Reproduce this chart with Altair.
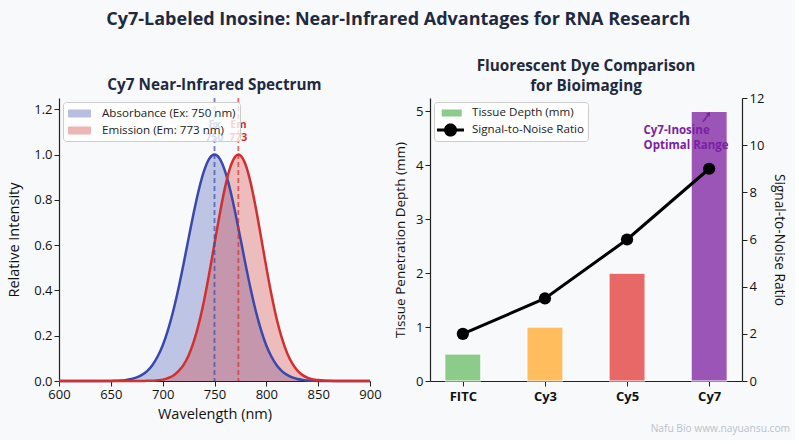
import altair as alt
import pandas as pd

FONT = "Open Sans"
BG = "#f8f9fb"
INK = "#1e2a3f"

# ---- Spectrum data (relative intensity per wavelength, nm) ----
wavelengths = [600, 605, 610, 615, 620, 625, 630, 635, 640, 645, 650,
               655, 660, 665, 670, 675, 680, 685, 690, 695, 700, 705, 710,
               715, 720, 725, 730, 735, 740, 745, 750, 755, 760, 765, 770,
               773, 775, 780, 785, 790, 795, 800, 805, 810, 815, 820, 825,
               830, 835, 840, 845, 850, 855, 860, 865, 870, 875, 880, 885,
               890, 895, 900]
absorbance = [0, 0, 0, 0, 0, 0, 0, 0, 0, 0, 0,
              0.001, 0.002, 0.005, 0.009, 0.016, 0.027, 0.044, 0.070, 0.107,
              0.157, 0.224, 0.306, 0.404, 0.514, 0.630, 0.744, 0.847, 0.929,
              0.982, 1.000, 0.982, 0.929, 0.847, 0.744,
              0.676, 0.630, 0.514, 0.404, 0.306, 0.224, 0.157, 0.107, 0.070,
              0.044, 0.027, 0.016, 0.009, 0.005, 0.002, 0.001,
              0, 0, 0, 0, 0, 0, 0, 0, 0, 0, 0]
emission = [0, 0, 0, 0, 0, 0, 0, 0, 0, 0, 0, 0, 0, 0, 0, 0, 0,
            0.001, 0.001, 0.003, 0.006, 0.013, 0.023, 0.042, 0.070, 0.113,
            0.174, 0.255, 0.357, 0.477, 0.607, 0.736, 0.852, 0.941, 0.991,
            1.000, 0.996, 0.955, 0.873, 0.761, 0.633, 0.502, 0.380, 0.274,
            0.189, 0.124, 0.078, 0.046, 0.026, 0.014, 0.007, 0.004, 0.002,
            0.001, 0, 0, 0, 0, 0, 0, 0, 0]
series_names = ["Absorbance (Ex: 750 nm)", "Emission (Em: 773 nm)"]
series_colors = ["#3949ab", "#d32f2f"]
peak_wavelengths = [750, 773]
peak_labels = [["Ex", "750"], ["Em", "773"]]

# ---- Dye comparison data ----
dyes = ["FITC", "Cy3", "Cy5", "Cy7"]
tissue_depth = [0.5, 1.0, 2.0, 5.0]
snr = [2.0, 3.5, 6.0, 9.0]
dye_colors = ["#8bcc8b", "#ffbd5d", "#e86868", "#9b55b6"]
legend_entries = ["Tissue Depth (mm)", "Signal-to-Noise Ratio"]
legend_colors = ["#8bcc8b", "#000000"]

note_pos = [2.2, 4.64]
arrow_tail = [2.925, 4.81]
arrow_head = [2.998, 4.96]
NOTE_COLOR = "#7b1fa2"

W, H = 311, 283

spec = pd.DataFrame({"wavelength": wavelengths,
                     series_names[0]: absorbance,
                     series_names[1]: emission})
peaks = pd.DataFrame({"wavelength": peak_wavelengths, "series": series_names,
                      "label": peak_labels, "level": [1.13, 1.13]})

# legend glyphs: unit square -1..1 maps to the symbol's nominal box
patch_sym = "M-0.86,-0.5H2.29V0.5H-0.86Z"
depth_sym = "M-0.47,-0.5H2.39V0.5H-0.47Z"
snr_sym = ("M-1.14,-0.21H-0.116A0.93,0.93,0,0,1,1.696,-0.21H2.71V0.21H1.696"
           "A0.93,0.93,0,0,1,-0.116,0.21H-1.14Z")

legend_common = dict(
    title=None, orient="top-left", offset=4, padding=4,
    fillColor="rgba(255,255,255,0.8)", strokeColor="#cccccc", cornerRadius=3,
    labelFont=FONT, labelFontSize=11.6, labelColor="#222222", labelOffset=20,
    symbolSize=196,
)
spec_legend = alt.Legend(symbolType=patch_sym, symbolOpacity=0.35,
                         symbolStrokeWidth=1, rowPadding=3, **legend_common)
color_spec = alt.Color("series:N",
                       scale=alt.Scale(domain=series_names, range=series_colors),
                       legend=spec_legend)
x_spec = alt.X("wavelength:Q",
               scale=alt.Scale(domain=[600, 900], nice=False, zero=False, padding=0),
               axis=alt.Axis(values=list(range(600, 901, 50)), labelFlush=False,
                             title="Wavelength (nm)", titlePadding=6))
y_axis_spec = alt.Axis(values=[0, 0.2, 0.4, 0.6, 0.8, 1.0, 1.2],
                       format=".1f", title="Relative Intensity", titlePadding=12)
y_scale_spec = alt.Scale(domain=[0, 1.25], nice=False, padding=0)
y_spec = alt.Y("intensity:Q", stack=None, scale=y_scale_spec, axis=y_axis_spec)
y_level = alt.Y("level:Q", stack=None, scale=y_scale_spec, axis=y_axis_spec)

folded = alt.Chart(spec).transform_fold(series_names, as_=["series", "intensity"])
areas = folded.mark_area(opacity=0.3, interpolate="monotone").encode(
    x=x_spec, y=y_spec, color=color_spec)
lines = folded.mark_line(strokeWidth=2.5, interpolate="monotone").encode(
    x=x_spec, y=y_spec, color=color_spec)
peak_rules = alt.Chart(peaks).mark_rule(
    strokeDash=[5, 3], strokeWidth=1.8, opacity=0.7
).encode(x=x_spec, color=color_spec)
peak_text = alt.Chart(peaks).mark_text(
    font=FONT, fontSize=10.5, fontWeight="bold", lineHeight=13, baseline="middle"
).encode(x=x_spec, y=y_level, text="label", color=color_spec)

spectrum = alt.layer(areas, lines, peak_rules, peak_text).properties(
    width=W, height=H,
    title=alt.TitleParams("Cy7 Near-Infrared Spectrum", font=FONT, fontSize=15.3,
                          fontWeight="bold", color=INK, frame="group", offset=4),
)

# ---- Right panel ----
dye_df = pd.DataFrame({"idx": list(range(len(dyes))), "dye": dyes,
                       "depth": tissue_depth, "snr": snr, "color": dye_colors})
label_expr = "[" + ",".join("'%s'" % d for d in dyes) + "][datum.value]"
x_scale_dye = alt.Scale(domain=[-0.4, 3.4], nice=False, zero=False, padding=0)
x_dye = alt.X("idx:Q", scale=x_scale_dye,
              axis=alt.Axis(values=list(range(len(dyes))), labelExpr=label_expr,
                            labelFlush=False, title=None, labelFontWeight="bold",
                            labelPadding=4))
y_scale_depth = alt.Scale(domain=[0, 5.25], nice=False, padding=0)
y_depth = alt.Y("depth:Q", scale=y_scale_depth,
                axis=alt.Axis(values=[0, 1, 2, 3, 4, 5], format="d",
                              title="Tissue Penetration Depth (mm)",
                              titleFontSize=13.5, titlePadding=8))
y_snr = alt.Y("snr:Q", scale=alt.Scale(domain=[0, 12], nice=False, padding=0),
              axis=alt.Axis(orient="right", values=[0, 2, 4, 6, 8, 10, 12], format="d",
                            title="Signal-to-Noise Ratio", titleFontSize=13.7,
                            titlePadding=8))

bars = alt.Chart(dye_df).mark_bar(size=36, stroke="white", strokeWidth=1).encode(
    x=x_dye, y=y_depth, fill=alt.Fill("color:N", scale=None))

dye_legend = alt.Legend(symbolOpacity=1, symbolStrokeWidth=0, rowPadding=4,
                        **legend_common)
legend_df = pd.DataFrame({"entry": legend_entries, "idx": [0, 0], "depth": [0, 0]})
legend_holder = alt.Chart(legend_df).mark_point(filled=True, opacity=0).encode(
    x=x_dye, y=y_depth,
    color=alt.Color("entry:N", scale=alt.Scale(domain=legend_entries, range=legend_colors),
                    legend=dye_legend),
    shape=alt.Shape("entry:N", scale=alt.Scale(domain=legend_entries,
                                               range=[depth_sym, snr_sym]),
                    legend=dye_legend),
)

note_df = pd.DataFrame({"x": [note_pos[0]], "y": [note_pos[1]],
                        "t": [["Cy7-Inosine", "Optimal Range"]],
                        "x0": [arrow_tail[0]], "y0": [arrow_tail[1]],
                        "x1": [arrow_head[0]], "y1": [arrow_head[1]]})
note_text = alt.Chart(note_df).mark_text(
    align="left", baseline="middle", font=FONT, fontSize=11.5, fontWeight="bold",
    lineHeight=15, color=NOTE_COLOR
).encode(x=alt.X("x:Q", scale=x_scale_dye),
         y=alt.Y("y:Q", scale=y_scale_depth), text="t")
arrow_line = alt.Chart(note_df).mark_rule(color=NOTE_COLOR, strokeWidth=1.5).encode(
    x=alt.X("x0:Q", scale=x_scale_dye), y=alt.Y("y0:Q", scale=y_scale_depth),
    x2="x1:Q", y2="y1:Q")
arrow_tip = alt.Chart(note_df).mark_point(
    shape="triangle-up", filled=True, color=NOTE_COLOR, size=22, angle=37, opacity=1
).encode(x=alt.X("x1:Q", scale=x_scale_dye), y=alt.Y("y1:Q", scale=y_scale_depth))

depth_side = alt.layer(bars, legend_holder, note_text, arrow_line, arrow_tip)

snr_line = alt.Chart(dye_df).mark_line(color="black", strokeWidth=3).encode(x=x_dye, y=y_snr)
snr_pts = alt.Chart(dye_df).mark_point(filled=True, color="black", size=150, opacity=1).encode(
    x=x_dye, y=y_snr)
watermark = alt.Chart(pd.DataFrame({"t": ["Nafu Bio  www.nayuansu.com"]})).mark_text(
    align="right", baseline="middle", font=FONT, fontSize=10.2, color="#b8c1cd"
).encode(x=alt.value(312 + 48), y=alt.value(H + 48), text="t:N")
snr_side = alt.layer(snr_line, snr_pts, watermark)

comparison = alt.layer(depth_side, snr_side).resolve_scale(y="independent").properties(
    width=312, height=H,
    title=alt.TitleParams(["Fluorescent Dye Comparison", "for Bioimaging"], font=FONT,
                          fontSize=15.3, fontWeight="bold", color=INK, frame="group",
                          offset=-2, lineHeight=20),
)

chart = alt.hconcat(spectrum, comparison, spacing=60, bounds="flush").resolve_scale(
    color="independent", shape="independent"
).resolve_legend(color="independent", shape="independent").properties(
    title=alt.TitleParams("Cy7-Labeled Inosine: Near-Infrared Advantages for RNA Research",
                          font=FONT, fontSize=18, fontWeight="bold", color=INK,
                          anchor="middle", offset=30),
    background=BG,
    padding={"left": 6, "top": 10, "right": 5, "bottom": 5},
).configure_view(stroke=None).configure_axis(
    labelFont=FONT, labelFontSize=13, labelColor="#111111",
    titleFont=FONT, titleFontSize=14.5, titleFontWeight="normal", titleColor="#111111",
    domainColor="#222222", tickColor="#222222", tickSize=5, domainWidth=1.2,
    grid=False,
)

chart.save("out.html", embed_options={"renderer": "svg", "actions": False})
